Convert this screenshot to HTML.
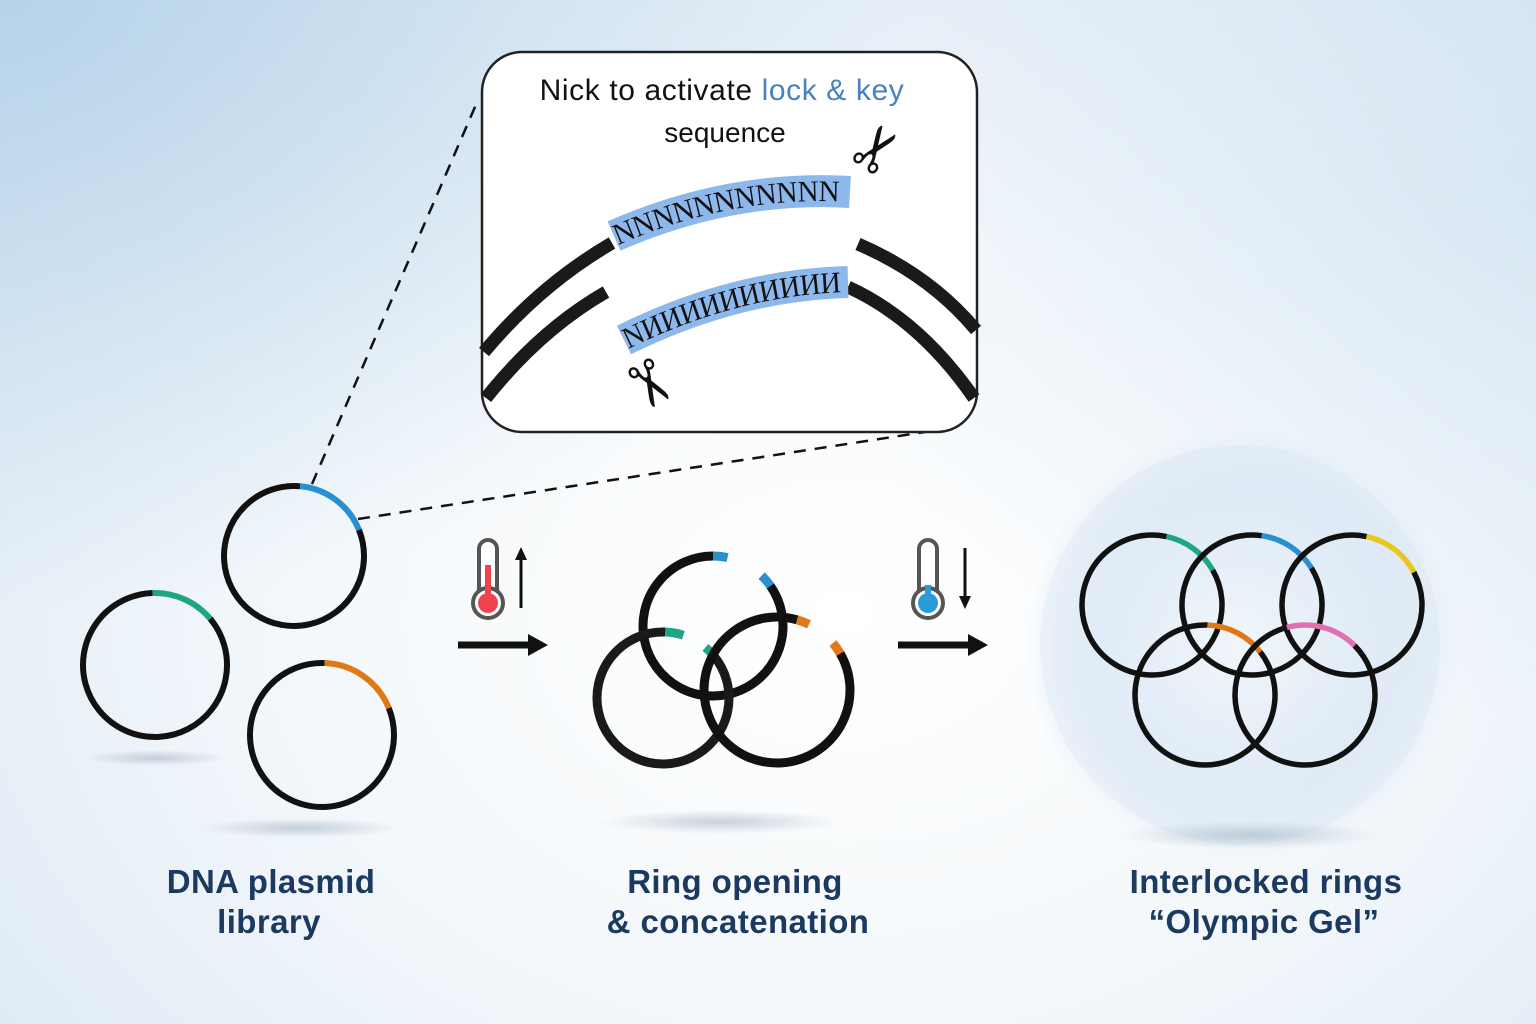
<!DOCTYPE html>
<html><head><meta charset="utf-8"><style>
html,body{margin:0;padding:0;width:1536px;height:1024px;overflow:hidden}
body{background:radial-gradient(ellipse at 55% 60%,#ffffff 0%,#f4f8fb 45%,#e3edf6 80%,#d3e4f2 100%);font-family:"Liberation Sans",sans-serif}
svg{position:absolute;left:0;top:0}
</style></head><body>
<svg id="s" width="1536" height="1024" viewBox="0 0 1536 1024">
<defs>
<radialGradient id="glow" cx="50%" cy="50%" r="50%">
<stop offset="0" stop-color="#ffffff" stop-opacity="0.9"/>
<stop offset="0.6" stop-color="#e4eef8" stop-opacity="0.8"/>
<stop offset="1" stop-color="#c6daee" stop-opacity="0"/>
</radialGradient>
<radialGradient id="sh" cx="50%" cy="50%" r="50%">
<stop offset="0" stop-color="#9fb0c0" stop-opacity="0.55"/>
<stop offset="1" stop-color="#9fb0c0" stop-opacity="0"/>
</radialGradient>
<radialGradient id="tl" cx="0%" cy="0%" r="60%">
<stop offset="0" stop-color="#a9cbe6" stop-opacity="0.7"/>
<stop offset="1" stop-color="#a9cbe6" stop-opacity="0"/>
</radialGradient>
<radialGradient id="tr" cx="100%" cy="20%" r="50%">
<stop offset="0" stop-color="#c5dcef" stop-opacity="0.4"/>
<stop offset="1" stop-color="#c5dcef" stop-opacity="0"/>
</radialGradient>
<path id="p1" d="M614 236 Q730 185 850 192"/>
<path id="p2" d="M624 340 Q735 285 848 282"/>
</defs>
<rect width="1536" height="1024" fill="url(#tl)"/>
<rect width="1536" height="1024" fill="url(#tr)"/>
<circle cx="1240" cy="645" r="215" fill="url(#glow)"/>
<circle cx="1240" cy="645" r="200" fill="#d6e6f4" opacity="0.35"/>
<ellipse cx="155" cy="758" rx="70" ry="8" fill="url(#sh)"/>
<ellipse cx="300" cy="828" rx="100" ry="10" fill="url(#sh)"/>
<ellipse cx="720" cy="822" rx="120" ry="12" fill="url(#sh)"/>
<ellipse cx="1250" cy="835" rx="130" ry="14" fill="url(#sh)"/>
<line x1="312" y1="484" x2="478" y2="100" stroke="#111" stroke-width="2.5" stroke-dasharray="12 9"/>
<line x1="358" y1="519" x2="925" y2="432" stroke="#111" stroke-width="2.5" stroke-dasharray="12 9"/>
<rect x="482" y="52" width="495" height="380" rx="40" fill="#fff" stroke="#222" stroke-width="2.5"/>
<text x="722" y="100" font-size="30" letter-spacing="0.6" text-anchor="middle" fill="#111">Nick to activate <tspan fill="#4a7fc0">lock &amp; key</tspan></text>
<text x="725" y="142" font-size="28" text-anchor="middle" fill="#111">sequence</text>
<g fill="none" stroke="#1a1a1a" stroke-width="13">
<path d="M484 352 Q540 285 612 243"/>
<path d="M858 244 Q930 275 976 330"/>
<path d="M486 398 Q540 330 606 292"/>
<path d="M848 287 Q920 320 974 398"/>
</g>
<use href="#p1" stroke="#8db8ec" stroke-width="32" fill="none"/>
<use href="#p2" stroke="#8db8ec" stroke-width="32" fill="none"/>
<text font-family="Liberation Serif,serif" font-size="30" fill="#111" dy="10"><textPath href="#p1" textLength="232" lengthAdjust="spacingAndGlyphs">NNNNNNNNNNN</textPath></text>
<text font-family="Liberation Serif,serif" font-size="30" fill="#111" dy="10"><textPath href="#p2" textLength="226" lengthAdjust="spacingAndGlyphs">NИИИИИИИИИИ</textPath></text>
<text x="878" y="170" font-size="62" fill="#111" transform="rotate(-55 878 150)" text-anchor="middle">✂</text>
<text x="648" y="405" font-size="62" fill="#111" transform="rotate(60 648 385)" text-anchor="middle">✂</text>
<g>
<rect x="479" y="540" width="18" height="64" rx="9" fill="#fff" stroke="#555" stroke-width="4"/>
<circle cx="488" cy="603" r="15" fill="#fff" stroke="#555" stroke-width="4"/>
<circle cx="488" cy="603" r="10" fill="#ee4450"/>
<rect x="485" y="565" width="6" height="36" fill="#ee4450"/>
<line x1="521" y1="608" x2="521" y2="558" stroke="#111" stroke-width="3"/>
<polygon points="515,560 527,560 521,547" fill="#111"/>
<line x1="458" y1="645" x2="530" y2="645" stroke="#111" stroke-width="7"/>
<polygon points="528,634 548,645 528,656" fill="#111"/>
</g>
<g>
<rect x="919" y="540" width="18" height="64" rx="9" fill="#fff" stroke="#555" stroke-width="4"/>
<circle cx="928" cy="603" r="15" fill="#fff" stroke="#555" stroke-width="4"/>
<circle cx="928" cy="603" r="10" fill="#2a9ad8"/>
<rect x="925" y="585" width="6" height="16" fill="#2a9ad8"/>
<line x1="965" y1="548" x2="965" y2="598" stroke="#111" stroke-width="3"/>
<polygon points="959,596 971,596 965,609" fill="#111"/>
<line x1="898" y1="645" x2="970" y2="645" stroke="#111" stroke-width="7"/>
<polygon points="968,634 988,645 968,656" fill="#111"/>
</g>
<g id="rings"></g>
<g font-size="33" font-weight="bold" fill="#1c3a60" text-anchor="middle" letter-spacing="0.4">
<text x="271" y="893">DNA plasmid</text>
<text x="269" y="933">library</text>
<text x="735" y="893">Ring opening</text>
<text x="738" y="933">&amp; concatenation</text>
<text x="1266" y="893">Interlocked rings</text>
<text x="1264" y="933">“Olympic Gel”</text>
</g>
</svg>
<script>
var g=document.getElementById('rings');var NS='http://www.w3.org/2000/svg';
function arc(cx,cy,r,a1,a2,col,w){var t=Math.PI/180;var x1=cx+r*Math.cos(a1*t),y1=cy+r*Math.sin(a1*t),x2=cx+r*Math.cos(a2*t),y2=cy+r*Math.sin(a2*t);var l=((a2-a1)%360+360)%360>180?1:0;var p=document.createElementNS(NS,'path');p.setAttribute('d','M'+x1+' '+y1+' A'+r+' '+r+' 0 '+l+' 1 '+x2+' '+y2);p.setAttribute('fill','none');p.setAttribute('stroke',col);p.setAttribute('stroke-width',w);g.appendChild(p);}
function ring(cx,cy,r,a1,a2,col,w){arc(cx,cy,r,a2,a1+360,'#111',w);arc(cx,cy,r,a1,a2,col,w);}
ring(294,556,70,-85,-22,'#2a8fd0',6);
ring(155,665,72,-92,-40,'#1fa585',6);
ring(322,735,72,-88,-22,'#e07818',6);
var W=9;
// ring1
arc(713,626,70,-35,270,'#111',W);arc(713,626,70,-90,-78,'#2a8fd0',W);arc(713,626,70,-46,-35,'#2a8fd0',W);
// ring2
arc(663,698,66,-40,272,'#1a1a1a',W);arc(663,698,66,-88,-72,'#1fa585',W);arc(663,698,66,-50,-40,'#1fa585',W);
// ring3
arc(777,690,73,-30,286,'#111',W);arc(777,690,73,-74,-64,'#e07818',W);arc(777,690,73,-40,-30,'#e07818',W);
var R=70,w=5.5;
ring(1152,605,R,-78,-30,'#1fa585',w);
ring(1252,605,R,-82,-32,'#2a8fd0',w);
ring(1352,605,R,-78,-28,'#e8c820',w);
ring(1205,695,R,-88,-38,'#e07818',w);
ring(1305,695,R,-105,-45,'#e070b0',w);
</script>
</body></html>
